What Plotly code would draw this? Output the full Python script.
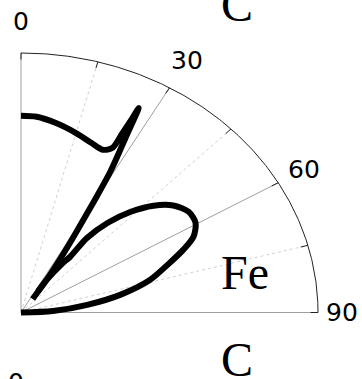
import numpy as np
import plotly.graph_objects as go

# Angular response curves (angle in degrees from the vertical axis, normalised radius)
theta_c = [0, 4, 9, 15, 20, 23.7, 25.9, 26.3, 26.6, 26.7, 27.6, 29.0, 29.8, 31.0, 32.5, 34.5, 37.0]
r_c = [0.758, 0.756, 0.740, 0.716, 0.695, 0.685, 0.706, 0.772, 0.839, 0.882,
       0.760, 0.620, 0.500, 0.360, 0.250, 0.150, 0.065]

theta_fe = [90, 86.9, 82.5, 78.4, 74.0, 69.4, 66.1, 63.3, 59.5, 55.5, 51.2, 47.3,
            43.6, 40.2, 37.7, 37.6, 36.4, 34.5, 35.0]
r_fe = [0.0, 0.108, 0.225, 0.343, 0.450, 0.530, 0.598, 0.650, 0.682, 0.685, 0.658,
        0.607, 0.536, 0.453, 0.363, 0.270, 0.237, 0.150, 0.100]

# Angular grid
tick_angles = [0, 30, 60, 90]
tick_labels = ["0", "30", "60", "90"]
minor_angles = [15, 45, 75]


def to_xy(theta_deg, r):
    t = np.radians(np.asarray(theta_deg, dtype=float))
    r = np.asarray(r, dtype=float)
    return r * np.sin(t), r * np.cos(t)


fig = go.Figure()

# dashed minor spokes
for a in minor_angles:
    x, y = to_xy([a, a], [0, 1])
    fig.add_trace(go.Scatter(x=x, y=y, mode="lines",
                             line=dict(color="#c4c4c4", width=0.8, dash="3px,3px"),
                             hoverinfo="skip"))
# solid major spokes
for a in tick_angles:
    x, y = to_xy([a, a], [0, 1])
    fig.add_trace(go.Scatter(x=x, y=y, mode="lines",
                             line=dict(color="#939393", width=0.9),
                             hoverinfo="skip"))
# outer arc
arc_t = np.linspace(0, 90, 181)
x, y = to_xy(arc_t, np.ones_like(arc_t))
fig.add_trace(go.Scatter(x=x, y=y, mode="lines",
                         line=dict(color="#222222", width=1), hoverinfo="skip"))
# inward ticks on the arc
for a in tick_angles + minor_angles:
    x, y = to_xy([a, a], [0.975, 1.0])
    fig.add_trace(go.Scatter(x=x, y=y, mode="lines",
                             line=dict(color="#222222", width=1), hoverinfo="skip"))

# curves
for th, rr in ((theta_c, r_c), (theta_fe, r_fe)):
    x, y = to_xy(th, rr)
    fig.add_trace(go.Scatter(x=x, y=y, mode="lines",
                             line=dict(color="black", width=6, shape="spline", smoothing=0.8),
                             hoverinfo="skip"))

# angle labels
label_r = [1.12, 1.12, 1.10, 1.08]
for a, lab, lr in zip(tick_angles, tick_labels, label_r):
    lx, ly = to_xy([a], [lr])
    fig.add_annotation(x=lx[0], y=ly[0], xref="x", yref="y", text=lab, showarrow=False,
                       font=dict(family="DejaVu Sans", size=25, color="black"),
                       xanchor="center", yanchor="middle")

W, H = 362, 379
serif = dict(family="Liberation Serif", size=48, color="black")
fig.add_annotation(x=237 / W, y=1 - 5 / H, xref="paper", yref="paper", text="C",
                   showarrow=False, font=serif, xanchor="center", yanchor="middle")
fig.add_annotation(x=245 / W, y=1 - 272 / H, xref="paper", yref="paper", text="Fe",
                   showarrow=False, font=serif, xanchor="center", yanchor="middle")
fig.add_annotation(x=237 / W, y=1 - 359 / H, xref="paper", yref="paper", text="C",
                   showarrow=False, font=serif, xanchor="center", yanchor="middle")
fig.add_annotation(x=16 / W, y=1 - 382 / H, xref="paper", yref="paper", text="0",
                   showarrow=False, font=dict(family="DejaVu Sans", size=25, color="black"),
                   xanchor="center", yanchor="middle")

fig.update_layout(
    width=W, height=H,
    margin=dict(l=0, r=0, t=0, b=0),
    paper_bgcolor="white", plot_bgcolor="white",
    showlegend=False,
    xaxis=dict(range=[-21 / 297, 341 / 297], visible=False, fixedrange=True),
    yaxis=dict(range=[(312.5 - 379) / 259.5, 312.5 / 259.5], visible=False, fixedrange=True),
)

fig.write_html("out.html", config={"displayModeBar": False})
